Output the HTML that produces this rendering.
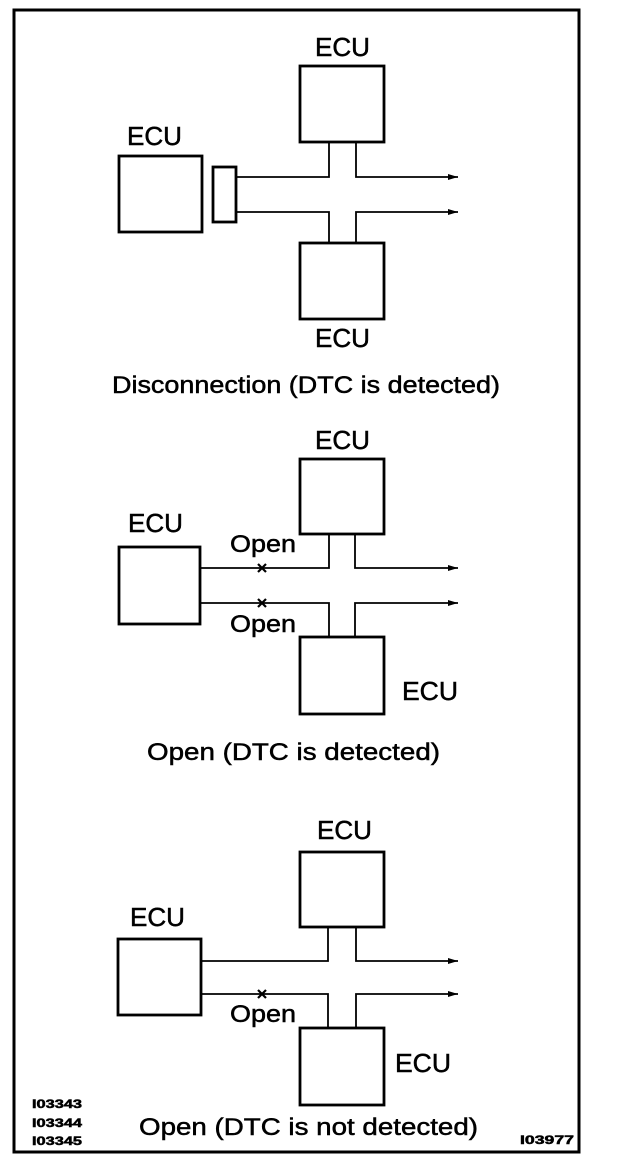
<!DOCTYPE html>
<html><head><meta charset="utf-8"><style>
html,body{margin:0;padding:0;background:#fff;}
svg{display:block;}
text{font-family:"Liberation Sans",Arial,sans-serif;fill:#000;stroke:#000;stroke-width:0.5;}
</style></head><body>
<svg width="624" height="1172" viewBox="0 0 624 1172" xmlns="http://www.w3.org/2000/svg">
<defs>
<marker id="ah" markerWidth="10" markerHeight="6" refX="10" refY="3" orient="auto" markerUnits="userSpaceOnUse">
<path d="M0,0 L10,3 L0,6 Z" fill="#000"/></marker>
</defs>
<path d="M14,10 L579,10 L579,1152 L14,1152 Z" fill="none" stroke="#000" stroke-width="3"/>

<g fill="none" stroke="#000">
<rect x="300" y="66" width="84" height="76" stroke-width="2.8"/>
<rect x="119" y="156" width="83" height="76" stroke-width="2.8"/>
<rect x="213" y="167" width="23" height="55" stroke-width="2.8"/>
<rect x="300" y="243" width="84" height="76" stroke-width="2.8"/>
<path d="M236,177 H329 V142" stroke-width="1.8"/>
<path d="M356,142 V177 H458" stroke-width="1.8" marker-end="url(#ah)"/>
<path d="M236,212 H329 V243" stroke-width="1.8"/>
<path d="M356,243 V212 H458" stroke-width="1.8" marker-end="url(#ah)"/>

<rect x="300" y="459" width="84" height="75" stroke-width="2.8"/>
<rect x="119" y="547" width="81" height="77" stroke-width="2.8"/>
<rect x="300" y="637" width="84" height="77" stroke-width="2.8"/>
<path d="M200,568 H329 V534" stroke-width="1.8"/>
<path d="M355,534 V568 H458" stroke-width="1.8" marker-end="url(#ah)"/>
<path d="M200,603 H329 V637" stroke-width="1.8"/>
<path d="M355,637 V603 H458" stroke-width="1.8" marker-end="url(#ah)"/>
<path d="M258,564 L266,572 M266,564 L258,572" stroke-width="2.2"/>
<path d="M258,599 L266,607 M266,599 L258,607" stroke-width="2.2"/>

<rect x="300" y="852" width="84" height="75" stroke-width="2.8"/>
<rect x="118" y="939" width="83" height="76" stroke-width="2.8"/>
<rect x="300" y="1028" width="84" height="77" stroke-width="2.8"/>
<path d="M201,961 H328 V927" stroke-width="1.8"/>
<path d="M356,927 V961 H458" stroke-width="1.8" marker-end="url(#ah)"/>
<path d="M201,994 H328 V1028" stroke-width="1.8"/>
<path d="M356,1028 V994 H458" stroke-width="1.8" marker-end="url(#ah)"/>
<path d="M258,990 L266,998 M266,990 L258,998" stroke-width="2.2"/>
</g>

<g font-size="26">
<text x="315" y="56" textLength="55" lengthAdjust="spacingAndGlyphs">ECU</text>
<text x="127" y="145" textLength="55" lengthAdjust="spacingAndGlyphs">ECU</text>
<text x="315" y="347" textLength="55" lengthAdjust="spacingAndGlyphs">ECU</text>
<text x="315" y="449" textLength="55" lengthAdjust="spacingAndGlyphs">ECU</text>
<text x="128" y="532" textLength="55" lengthAdjust="spacingAndGlyphs">ECU</text>
<text x="402" y="700" textLength="56" lengthAdjust="spacingAndGlyphs">ECU</text>
<text x="317" y="839" textLength="55" lengthAdjust="spacingAndGlyphs">ECU</text>
<text x="130" y="926" textLength="55" lengthAdjust="spacingAndGlyphs">ECU</text>
<text x="395" y="1072" textLength="56" lengthAdjust="spacingAndGlyphs">ECU</text>
</g>
<g font-size="24">
<text x="230" y="552" textLength="66" lengthAdjust="spacingAndGlyphs">Open</text>
<text x="230" y="632" textLength="66" lengthAdjust="spacingAndGlyphs">Open</text>
<text x="230" y="1022" textLength="66" lengthAdjust="spacingAndGlyphs">Open</text>
<text x="112" y="393" textLength="388" lengthAdjust="spacingAndGlyphs">Disconnection (DTC is detected)</text>
<text x="147" y="760" textLength="293" lengthAdjust="spacingAndGlyphs">Open (DTC is detected)</text>
<text x="139" y="1135" textLength="339" lengthAdjust="spacingAndGlyphs">Open (DTC is not detected)</text>
</g>
<g font-size="12" font-weight="bold">
<text x="32" y="1108" textLength="50" lengthAdjust="spacingAndGlyphs">I03343</text>
<text x="32" y="1127" textLength="50" lengthAdjust="spacingAndGlyphs">I03344</text>
<text x="32" y="1145" textLength="50" lengthAdjust="spacingAndGlyphs">I03345</text>
<text x="520" y="1144" textLength="54" lengthAdjust="spacingAndGlyphs">I03977</text>
</g>
</svg>
</body></html>
